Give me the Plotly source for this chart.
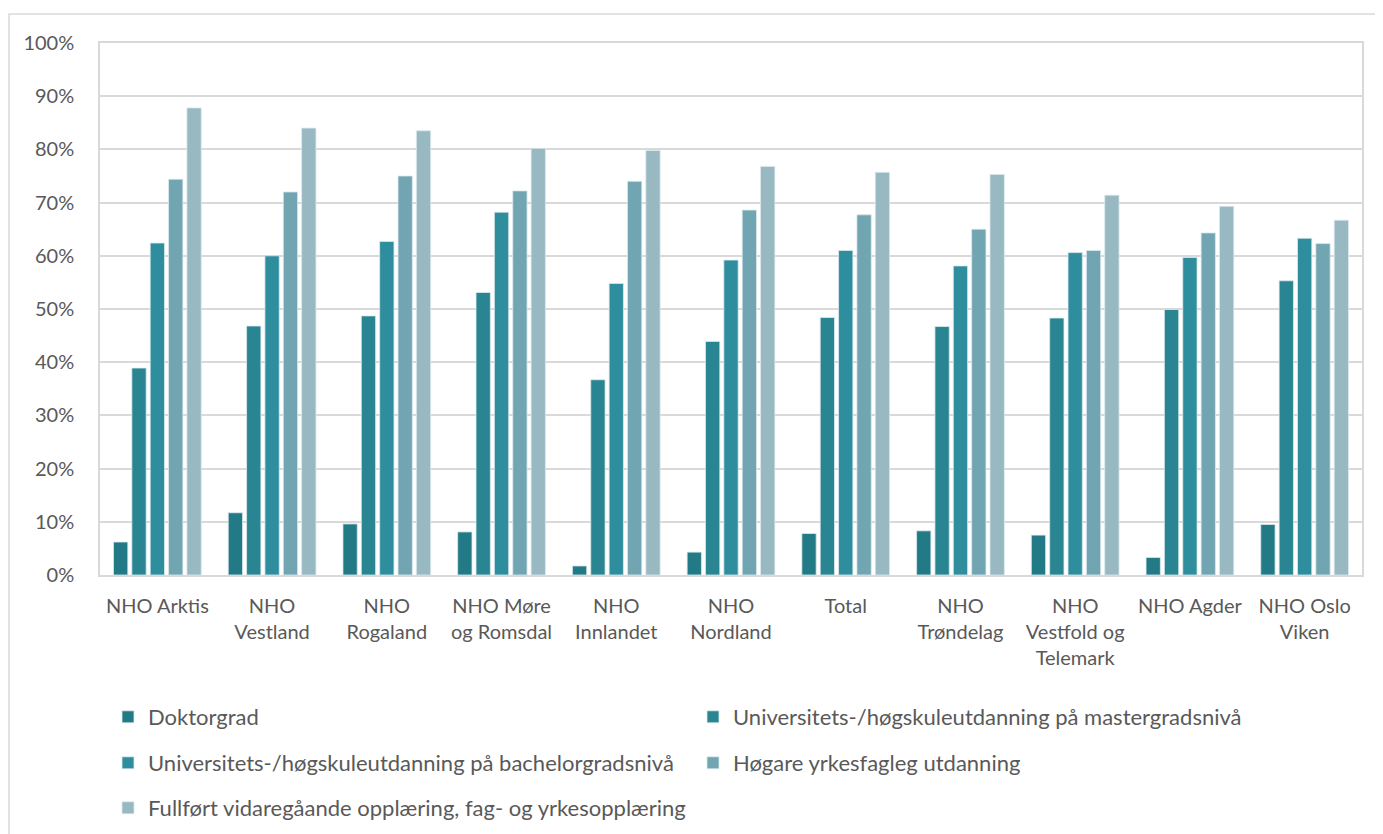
import plotly.graph_objects as go

categories = ["NHO Arktis", "NHO<br>Vestland", "NHO<br>Rogaland", "NHO Møre<br>og Romsdal",
              "NHO<br>Innlandet", "NHO<br>Nordland", "Total", "NHO<br>Trøndelag",
              "NHO<br>Vestfold og<br>Telemark", "NHO Agder", "NHO Oslo<br>Viken"]

doktorgrad = [6.2, 11.7, 9.6, 8.1, 1.7, 4.3, 7.8, 8.3, 7.5, 3.3, 9.5]
master = [38.9, 46.8, 48.7, 53.1, 36.7, 43.9, 48.4, 46.7, 48.3, 49.9, 55.3]
bachelor = [62.4, 60.0, 62.7, 68.2, 54.8, 59.2, 61.0, 58.1, 60.6, 59.7, 63.3]
hogare = [74.4, 72.0, 75.0, 72.2, 74.0, 68.6, 67.7, 65.0, 61.0, 64.3, 62.3]
fullfort = [87.8, 84.0, 83.5, 80.2, 79.8, 76.8, 75.7, 75.3, 71.4, 69.3, 66.7]

series = [
    ("Doktorgrad", doktorgrad, "#237A87", "legend"),
    ("Universitets-/høgskuleutdanning på mastergradsnivå", master, "#288591", "legend"),
    ("Universitets-/høgskuleutdanning på bachelorgradsnivå", bachelor, "#2E8E9E", "legend2"),
    ("Høgare yrkesfagleg utdanning", hogare, "#72A5B2", "legend2"),
    ("Fullført vidaregåande opplæring, fag- og yrkesopplæring", fullfort, "#98B8C2", "legend3"),
]

fig = go.Figure()
for name, vals, color, lg in series:
    fig.add_trace(go.Bar(
        x=categories, y=vals, name=name, legend=lg,
        marker=dict(color=color, line=dict(color="#DCEAEE", width=0.8)),
    ))

OFF = 8  # page body margin
W, H = 1383 - OFF, 834 - OFF
# plot area in screen pixels
PX0, PX1, PY0, PY1 = 100, 1362, 43, 575
L, T = PX0 - OFF, PY0 - OFF
R = W - (PX1 - OFF)
B = H - (PY1 - OFF)
pw, ph = PX1 - PX0, PY1 - PY0

def px_x(sx):
    return (sx - PX0) / pw

def px_y(sy):
    return (PY1 - sy) / ph

font = dict(family="Lato, 'Noto Sans', sans-serif", size=20, color="#595959")
lfont = dict(family="Lato, 'Noto Sans', sans-serif", size=22, color="#595959")
leg_common = dict(orientation="h", font=lfont, entrywidth=540, entrywidthmode="pixels",
                  bgcolor="rgba(0,0,0,0)", xanchor="left", yanchor="middle",
                  traceorder="normal", itemwidth=30)

fig.update_layout(
    width=W, height=H,
    margin=dict(l=L, r=R, t=T, b=B, autoexpand=False),
    paper_bgcolor="white", plot_bgcolor="white",
    font=font,
    barmode="group", bargap=0.2, bargroupgap=0.22,
    showlegend=True,
    legend=dict(x=px_x(108), y=px_y(717), **leg_common),
    legend2=dict(x=px_x(108), y=px_y(763), **leg_common),
    legend3=dict(x=px_x(108), y=px_y(808), **leg_common),
    xaxis=dict(showgrid=False, showline=True, linecolor="#D9D9D9", linewidth=1.5,
               mirror=True, tickfont=font, ticklabelstandoff=12),
    yaxis=dict(range=[0, 100], dtick=10, ticksuffix="%", showgrid=True,
               gridcolor="#D9D9D9", gridwidth=1.5, showline=True, linecolor="#D9D9D9",
               linewidth=1.5, mirror=True, zeroline=False, tickfont=font,
               ticklabelstandoff=20),
    shapes=[dict(type="rect", xref="paper", yref="paper",
                 x0=px_x(9), x1=px_x(1400), y0=px_y(850), y1=px_y(14),
                 line=dict(color="#D9D9D9", width=1.5), fillcolor="rgba(0,0,0,0)",
                 layer="below")],
)

fig.write_html("out.html")
